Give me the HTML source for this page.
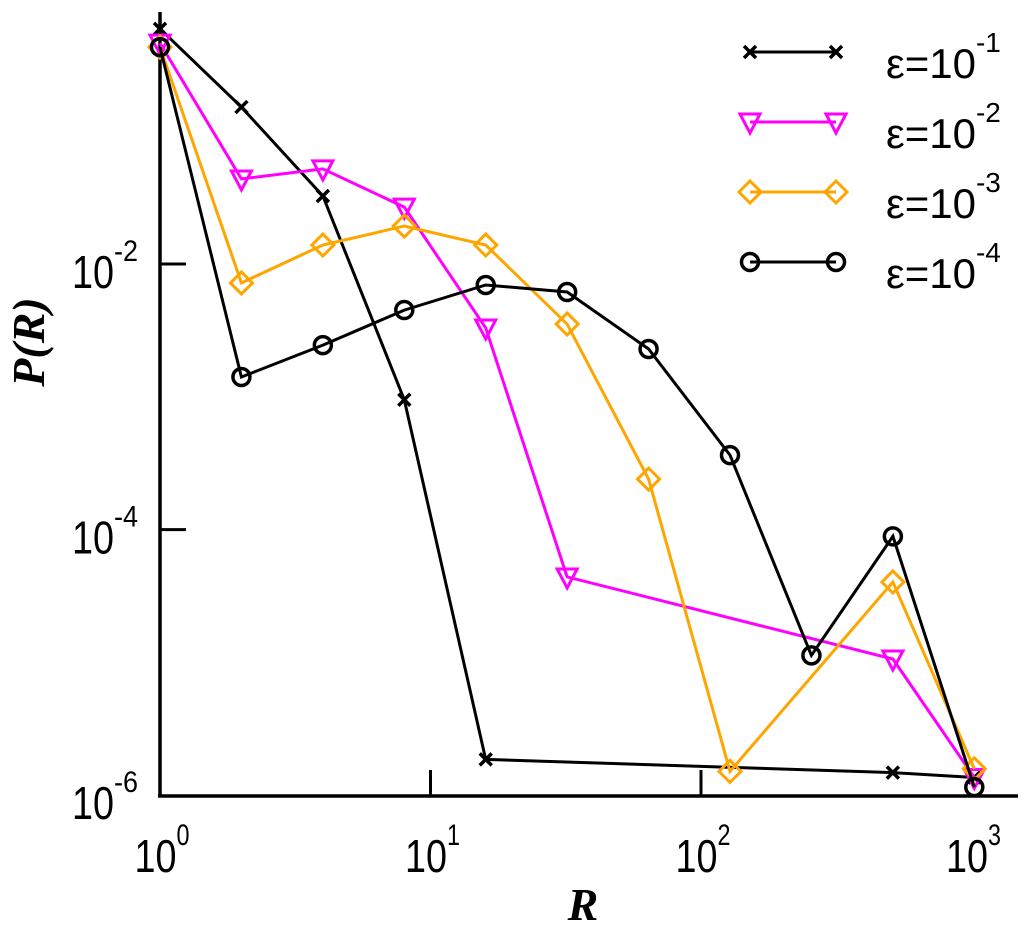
<!DOCTYPE html>
<html><head><meta charset="utf-8"><style>
html,body{margin:0;padding:0;background:#fff;}
svg{display:block;font-family:"Liberation Sans",sans-serif;}
</style></head><body>
<svg id="chart" width="1024" height="926" viewBox="0 0 1024 926" xmlns="http://www.w3.org/2000/svg">
<g id="axes"></g>
<g id="series"></g>
<g id="legend"></g>
<text transform="translate(44,342) rotate(-90)" text-anchor="middle" font-family="Liberation Serif,serif" font-weight="bold" font-style="italic" font-size="46">P(R)</text>
<text x="583" y="920" text-anchor="middle" font-family="Liberation Serif,serif" font-weight="bold" font-style="italic" font-size="46">R</text>
</svg>
<script>
const R = [1,2,4,8,16,32,64,128,256,512,1024];
const s1R = [1,2,4,8,16,512,1024];
const s1 = [0.59,0.152,0.0325,9.5e-4,1.86e-6,1.48e-6,1.36e-6];
const s2R = [1,2,4,8,16,32,512,1024];
const s2 = [0.46,0.0437,0.052,0.0268,0.0033,4.4e-5,1.06e-5,1.36e-6];
const s3R = [1,2,4,8,16,32,64,128,512,1024];
const s3 = [0.43,0.0072,0.0139,0.0193,0.0139,0.00353,2.4e-4,1.51e-6,4.03e-5,1.58e-6];
const s4R = R;
const s4 = [0.43,0.00141,0.00245,0.0045,0.00695,0.00615,0.00229,3.64e-4,1.13e-5,8.9e-5,1.15e-6];
const xTickExp = [0,1,2,3];
const yTickExp = [-2,-4,-6];
const legendLabels = ["-1","-2","-3","-4"];

const NS="http://www.w3.org/2000/svg";
const X0=160, XD=270.5, Y2=264, YD=132.8;
function xs(v){return X0+Math.log10(v)*XD;}
function ys(v){return Y2+(-2-Math.log10(v))*YD;}
function mk(tag,attrs,parent){const e=document.createElementNS(NS,tag);for(const k in attrs)e.setAttribute(k,attrs[k]);parent.appendChild(e);return e;}
const axes=document.getElementById('axes');
let a=mk('line',{x1:X0,y1:12,x2:X0,y2:797,stroke:'#000','stroke-width':3.5},axes);


a=mk('line',{x1:158,y1:796,x2:1018,y2:796,stroke:'#000','stroke-width':3.5},axes);


xTickExp.forEach(e=>{
  const x=xs(Math.pow(10,e));
  if(e>0&&e<3){const t=mk('line',{x1:x,y1:796,x2:x,y2:770,stroke:'#000','stroke-width':3},axes);
  
  }
  const tx=mk('text',{x:x+2,y:872,'text-anchor':'middle','font-size':46},axes);
  
  
  tx.innerHTML='<tspan textLength="42" lengthAdjust="spacingAndGlyphs">10</tspan><tspan dy="-27" font-size="30" textLength="13" lengthAdjust="spacingAndGlyphs">'+e+'</tspan>';
});
yTickExp.forEach(e=>{
  const y=ys(Math.pow(10,e));
  if(e>-6){const t=mk('line',{x1:X0,y1:y,x2:186,y2:y,stroke:'#000','stroke-width':3},axes);
  
  }
  const tx=mk('text',{x:72,y:y+24,'font-size':46},axes);
  
  
  tx.innerHTML='<tspan textLength="42" lengthAdjust="spacingAndGlyphs">10</tspan><tspan dy="-27" font-size="30" textLength="24" lengthAdjust="spacingAndGlyphs">'+e+'</tspan>';
});
function marker(type,x,y,col,g){
  let m;
  if(type==='x'){m=mk('path',{d:`M${x-6},${y-6}L${x+6},${y+6}M${x-6},${y+6}L${x+6},${y-6}`,stroke:col,'stroke-width':3.5,fill:'none'},g);}
  else if(type==='tri'){m=mk('path',{d:`M${x-10},${y-8}L${x+10},${y-8}L${x},${y+11}Z`,stroke:col,'stroke-width':3,fill:'none'},g);}
  else if(type==='dia'){m=mk('path',{d:`M${x-11},${y}L${x},${y-11}L${x+11},${y}L${x},${y+11}Z`,stroke:col,'stroke-width':3,fill:'none'},g);}
  else {m=mk('circle',{cx:x,cy:y,r:8.5,stroke:col,'stroke-width':3.5,fill:'none'},g);}
  
  
}
const defs=[[s1R,s1,'#000','x','series-eps-1e-1'],[s2R,s2,'#ff00ff','tri','series-eps-1e-2'],[s3R,s3,'#ffa500','dia','series-eps-1e-3'],[s4R,s4,'#000','o','series-eps-1e-4']];
const sg=document.getElementById('series');
defs.forEach(([rx,vy,col,type,name])=>{
  const g=mk('g',{},sg);
  
  
  const pts=rx.map((r,i)=>xs(r).toFixed(1)+','+ys(vy[i]).toFixed(1)).join(' ');
  const pl=mk('polyline',{points:pts,fill:'none',stroke:col,'stroke-width':3},g);
  
  
  rx.forEach((r,i)=>marker(type,xs(r),ys(vy[i]),col,g));
});
const lg=document.getElementById('legend');
defs.forEach(([rx,vy,col,type,name],i)=>{
  const y=52+i*70;
  const g=mk('g',{},lg);
  
  
  mk('line',{x1:750,y1:y,x2:836,y2:y,stroke:col,'stroke-width':3},g);
  marker(type,750,y,col,g);marker(type,836,y,col,g);
  const t=mk('text',{x:886,y:y+26,'font-size':42},g);
  
  
  t.innerHTML='ε=10<tspan dy="-26" font-size="28">'+legendLabels[i]+'</tspan>';
});
</script>
</body></html>
